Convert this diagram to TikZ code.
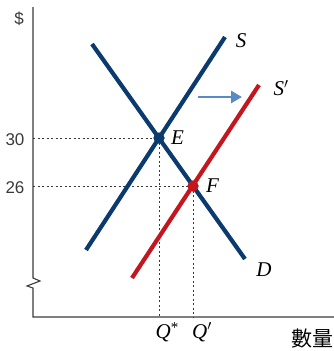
\documentclass[tikz,border=0pt]{standalone}
\usepackage{fontspec}
\setmainfont{Liberation Serif}
\newfontfamily\numfont{Liberation Sans}
\newfontfamily\cjk{Noto Sans CJK TC}
\usetikzlibrary{positioning, arrows.meta}
\definecolor{curveblue}{HTML}{0B3A6E}
\definecolor{curvered}{HTML}{C3161F}
\definecolor{shiftblue}{HTML}{5A8AC4}
\definecolor{axisgray}{HTML}{3A3A3A}

\begin{document}
\begin{tikzpicture}[x=1pt, y=-1pt,
  >=Stealth, font=\fontsize{18}{20}\selectfont,
  axis/.style={line width=1.1pt, axisgray},
  guide/.style={dash pattern=on 2pt off 2.5pt, line width=0.8pt, axisgray},
  bluecurve/.style={line width=4.2pt, curveblue},
  redcurve/.style={line width=4.2pt, curvered},
  dot/.style={circle, inner sep=0pt, minimum size=11pt},
  lbl/.style={font=\fontsize{21}{23}\selectfont\itshape, inner sep=1pt},
  tick/.style={font=\numfont\fontsize{17}{19}\selectfont, text=axisgray, inner sep=1pt}
]
\useasboundingbox (0,0) rectangle (334,351);
\coordinate (top) at (33,7);
\coordinate (o) at (33,317);
\coordinate (xend) at (334,317);
\coordinate (s0) at (86,250);
\coordinate (s1) at (225,37);
\coordinate (d0) at (92,44);
\coordinate (d1) at (245,259);
\coordinate (r0) at (132,278);
\coordinate (r1) at (259,85);
\draw[axis] (top) -- (33,278) -- (40,281) -- (27,286) -- (33,288) -- (o) -- (xend);
\node[dot, fill=curveblue] (E) at (159,138) {};
\node[dot, fill=curvered] (F) at (193,186) {};
\node[tick] (p30) at (15,140) {30};
\node[tick] (p26) at (15,188) {26};
\node[tick] (dollar) at (19,19) {\$};
\draw[guide] (E.center -| o) -- (E.center);
\draw[guide] (F.center -| o) -- (F.center);
\draw[guide] (E.center) -- (E.center |- o);
\draw[guide] (F.center) -- (F.center |- o);
\draw[bluecurve] (s0) -- (s1);
\draw[bluecurve] (d0) -- (d1);
\draw[redcurve] (r0) -- (r1);
\node[dot, fill=curveblue] at (E) {};
\node[dot, fill=curvered] at (F) {};
\coordinate (a0) at (198,97);
\coordinate (a1) at (242,97);
\draw[-{Triangle[length=11pt, width=12pt]}, line width=2.8pt, shiftblue] (a0) -- (a1);
\node[lbl, right=11pt of E.center] {E};
\node[lbl, right=12pt of F.center] {F};
\node[lbl] (sl) at (241,41) {S};
\node[lbl] (rl) at (281,88) {S$'$};
\node[lbl] (dl) at (264,270) {D};
\node[lbl] (qs) at (167,332) {Q\raisebox{6pt}{\fontsize{15}{15}\selectfont\upshape *}};
\node[lbl] (qp) at (202,332) {Q$'$};
\node[font=\cjk\fontsize{21}{23}\selectfont, inner sep=0pt] (qty) at (312,339) {數量};
\end{tikzpicture}
\end{document}
